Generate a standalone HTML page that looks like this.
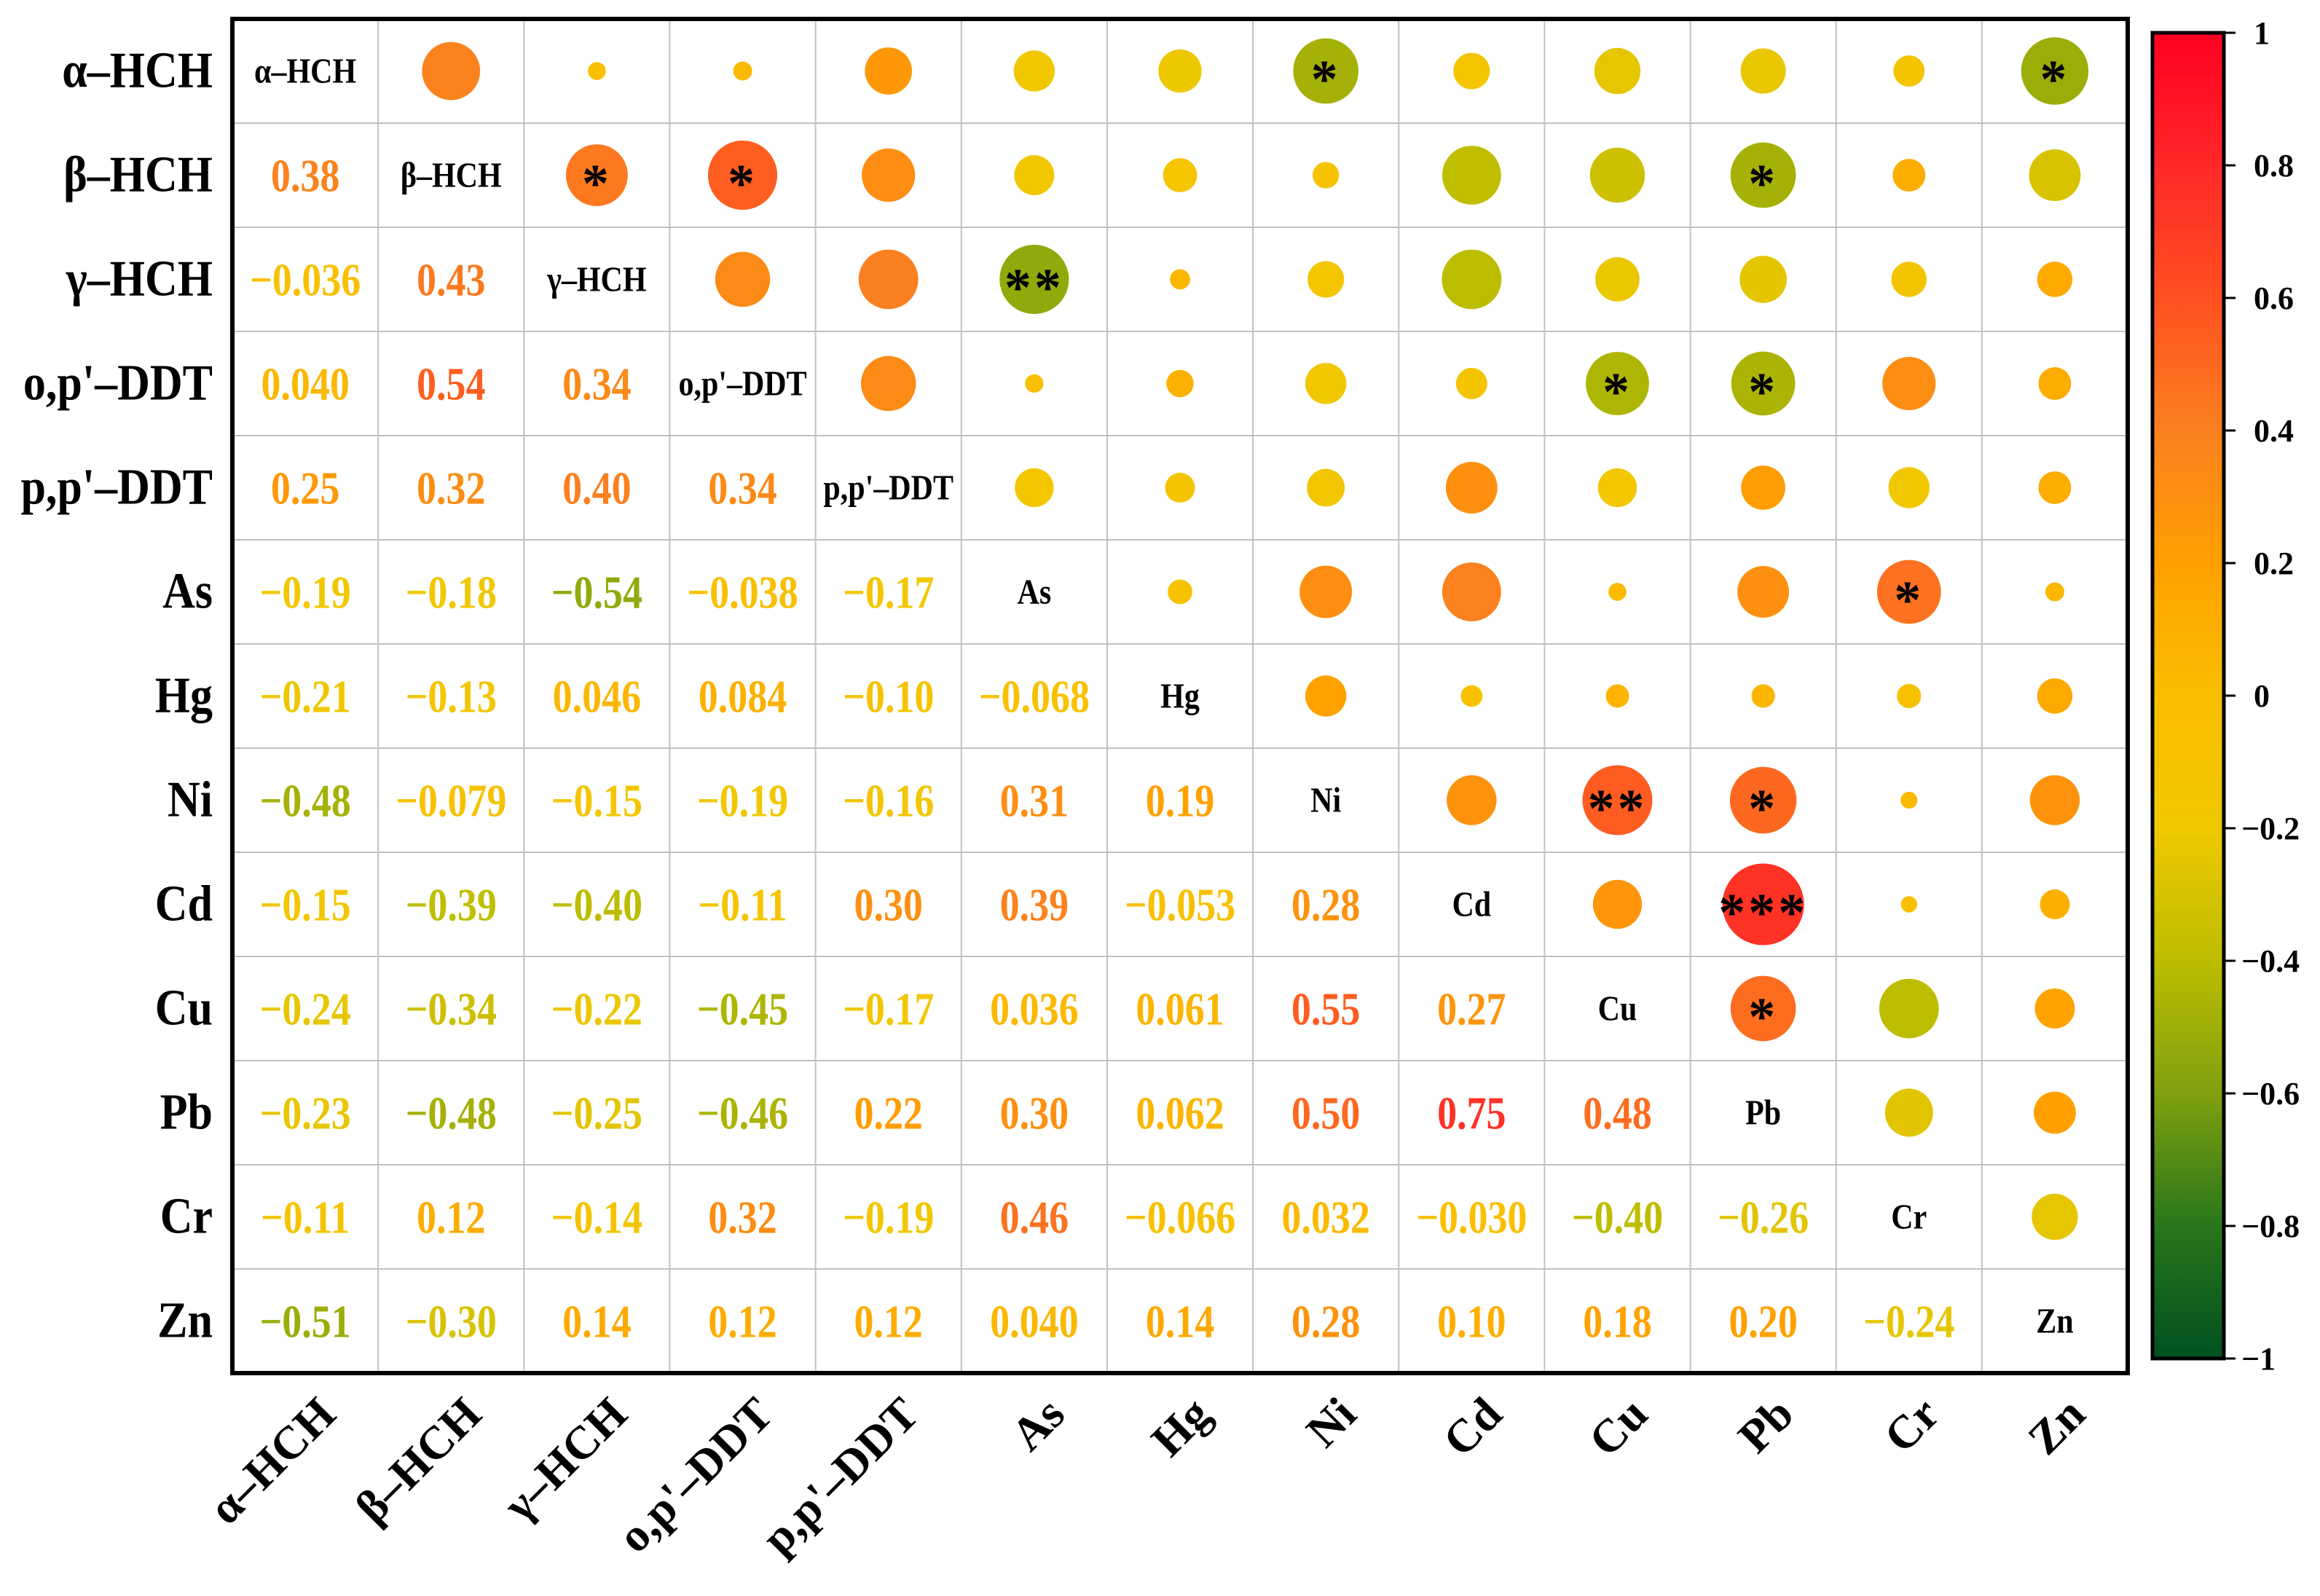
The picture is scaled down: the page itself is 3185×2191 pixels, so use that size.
<!DOCTYPE html>
<html><head><meta charset="utf-8"><style>
html,body{margin:0;padding:0;background:#fff;}
svg{display:block;}
text{font-family:"Liberation Serif",serif;}
</style></head><body>
<svg id="chart" width="3185" height="2191" viewBox="0 0 3185 2191" xmlns="http://www.w3.org/2000/svg"></svg>
<script>
const variables = ["α–HCH","β–HCH","γ–HCH","o,p'–DDT","p,p'–DDT","As","Hg","Ni","Cd","Cu","Pb","Cr","Zn"];
const corrLower = [
 [],
 [0.38],
 [-0.036,0.43],
 [0.040,0.54,0.34],
 [0.25,0.32,0.40,0.34],
 [-0.19,-0.18,-0.54,-0.038,-0.17],
 [-0.21,-0.13,0.046,0.084,-0.10,-0.068],
 [-0.48,-0.079,-0.15,-0.19,-0.16,0.31,0.19],
 [-0.15,-0.39,-0.40,-0.11,0.30,0.39,-0.053,0.28],
 [-0.24,-0.34,-0.22,-0.45,-0.17,0.036,0.061,0.55,0.27],
 [-0.23,-0.48,-0.25,-0.46,0.22,0.30,0.062,0.50,0.75,0.48],
 [-0.11,0.12,-0.14,0.32,-0.19,0.46,-0.066,0.032,-0.030,-0.40,-0.26],
 [-0.51,-0.30,0.14,0.12,0.12,0.040,0.14,0.28,0.10,0.18,0.20,-0.24]
];
const corrLabels = [
 [],
 ["0.38"],
 ["−0.036","0.43"],
 ["0.040","0.54","0.34"],
 ["0.25","0.32","0.40","0.34"],
 ["−0.19","−0.18","−0.54","−0.038","−0.17"],
 ["−0.21","−0.13","0.046","0.084","−0.10","−0.068"],
 ["−0.48","−0.079","−0.15","−0.19","−0.16","0.31","0.19"],
 ["−0.15","−0.39","−0.40","−0.11","0.30","0.39","−0.053","0.28"],
 ["−0.24","−0.34","−0.22","−0.45","−0.17","0.036","0.061","0.55","0.27"],
 ["−0.23","−0.48","−0.25","−0.46","0.22","0.30","0.062","0.50","0.75","0.48"],
 ["−0.11","0.12","−0.14","0.32","−0.19","0.46","−0.066","0.032","−0.030","−0.40","−0.26"],
 ["−0.51","−0.30","0.14","0.12","0.12","0.040","0.14","0.28","0.10","0.18","0.20","−0.24"]
];
const starKeys = ["0,7","0,12","1,2","1,3","1,10","2,5","3,9","3,10","5,11","7,9","7,10","8,10","9,10"];
const starVals = ["*","*","*","*","*","**","*","*","*","**","*","***","*"];
const cbTicks = [1,0.8,0.6,0.4,0.2,0,-0.2,-0.4,-0.6,-0.8,-1];
const cbTickLabels = ["1","0.8","0.6","0.4","0.2","0","−0.2","−0.4","−0.6","−0.8","−1"];

const NS="http://www.w3.org/2000/svg";
const svg=document.getElementById('chart');
function el(tag,attrs,parent){const e=document.createElementNS(NS,tag);for(const k in attrs)e.setAttribute(k,attrs[k]);(parent||svg).appendChild(e);return e;}
const L=319,T=26,R=2921,B=1885,n=variables.length;
const cw=(R-L)/n, ch=(B-T)/n;
const xc=i=>L+cw*(i+0.5), yc=i=>T+ch*(i+0.5);
const stops=[[-1,[0,80,32]],[-0.8,[40,118,26]],[-0.6,[128,160,16]],[-0.4,[189,189,0]],[-0.2,[240,200,0]],[0,[250,190,0]],[0.2,[255,160,0]],[0.4,[251,128,32]],[0.6,[255,80,32]],[0.8,[255,40,40]],[1,[255,0,34]]];
function color(v){v=Math.max(-1,Math.min(1,v));for(let i=0;i<stops.length-1;i++){const [a,ca]=stops[i],[b,cb]=stops[i+1];if(v>=a&&v<=b){const t=(v-a)/(b-a);return 'rgb('+ca.map((c,k)=>Math.round(c+(cb[k]-c)*t)).join(',')+')';}}return 'black';}
const rad=v=>64.7*Math.sqrt(Math.abs(v));

const grid=el('g',{});

for(let i=1;i<n;i++){
 el('line',{x1:L+cw*i,x2:L+cw*i,y1:T,y2:B,stroke:'#c0c0c0','stroke-width':2},grid);
 el('line',{x1:L,x2:R,y1:T+ch*i,y2:T+ch*i,stroke:'#c0c0c0','stroke-width':2},grid);
}
function stretched(x,y,sy,attrs,txt){
 const t=el('text',Object.assign({x:0,y:0,transform:'translate('+x+' '+y+') scale(1 '+sy+')'},attrs));t.textContent=txt;return t;
}
for(let r=0;r<n;r++){for(let c=0;c<n;c++){
 if(r===c){
  const t=stretched(xc(c),yc(r)+16,1.15,{'text-anchor':'middle','font-size':42,'font-weight':'bold',fill:'#000'},variables[r]);
  
 } else if(r>c){
  const v=corrLower[r][c];
  const t=stretched(xc(c),yc(r)+22,1.18,{'text-anchor':'middle','font-size':54,'font-weight':'bold',fill:color(v)},corrLabels[r][c]);
  
 } else {
  const v=corrLower[c][r];
  const ci=el('circle',{cx:xc(c),cy:yc(r),r:rad(v),fill:color(v)});
  
  const k=starKeys.indexOf(r+','+c);
  if(k>=0){const s=el('text',{x:xc(c),y:yc(r)+36,'text-anchor':'middle','font-size':74,fill:'#000','font-weight':'bold','letter-spacing':4});s.textContent=starVals[k];
   }
 }
}}
const box=el('rect',{x:L,y:T,width:R-L,height:B-T,fill:'none',stroke:'#000','stroke-width':6});

for(let i=0;i<n;i++){
 const t=stretched(292,yc(i)+22,1.12,{'text-anchor':'end','font-size':62,'font-weight':'bold'},variables[i]);
 
 const x=xc(i)+45,y=1945;
 const t2=el('text',{x:x,y:y,'text-anchor':'end','font-size':64,'font-weight':'bold',transform:'rotate(-45 '+x+' '+y+')'});t2.textContent=variables[i];
 
}
const cbX=2955,cbW=98,cbT=45,cbB=1865;
const defs=el('defs',{});const g=el('linearGradient',{id:'cbg',x1:0,y1:1,x2:0,y2:0},defs);
stops.forEach(s=>el('stop',{offset:((s[0]+1)/2*100)+'%','stop-color':color(s[0])},g));
const cb=el('rect',{x:cbX,y:cbT,width:cbW,height:cbB-cbT,fill:'url(#cbg)',stroke:'#000','stroke-width':5});

const cy=v=>cbB-(v+1)/2*(cbB-cbT);
cbTicks.forEach((v,i)=>{
 el('line',{x1:cbX+cbW,x2:cbX+cbW+16,y1:cy(v),y2:cy(v),stroke:'#000','stroke-width':3});
 const t=el('text',{x:v<0?3077:3094,y:cy(v)+15,'font-size':44,'font-weight':'bold'});t.textContent=cbTickLabels[i];
 
});
</script>
</body></html>
